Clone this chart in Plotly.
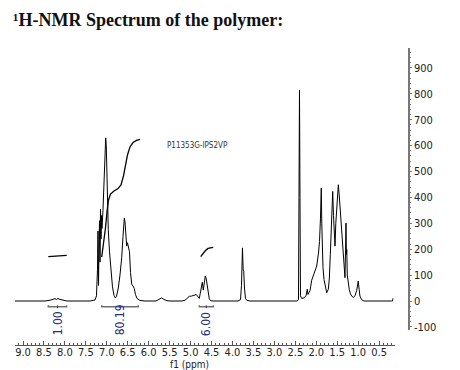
import plotly.graph_objects as go

# ---- data ----
spec_ppm = [9.19, 8.475, 8.356, 8.284, 8.236, 8.20, 8.165, 8.117, 8.045, 7.95,
            7.40, 7.28, 7.246, 7.222, 7.21, 7.198, 7.186, 7.174, 7.162, 7.150,
            7.138, 7.126, 7.115, 7.091, 7.067, 7.043, 7.026, 7.012, 6.995, 6.964,
            6.935, 6.900, 6.864, 6.828, 6.797, 6.768, 6.725, 6.685, 6.644, 6.613,
            6.582, 6.565, 6.541, 6.525, 6.506, 6.482, 6.458, 6.434, 6.405, 6.375,
            6.343, 6.315, 6.279, 6.208, 6.088, 5.825, 5.754, 5.689, 5.634, 5.563,
            5.491, 5.205, 5.133, 5.085, 5.030, 4.978, 4.935, 4.894, 4.870, 4.835,
            4.792, 4.768, 4.744, 4.720, 4.696, 4.672, 4.649, 4.625, 4.601, 4.577,
            4.553, 4.520, 4.441, 3.868, 3.808, 3.785, 3.761, 3.744, 3.730, 3.713,
            3.689, 3.653, 3.582, 2.46, 2.424, 2.412, 2.400, 2.388, 2.376, 2.347,
            2.293, 2.245, 2.214, 2.197, 2.149, 2.109, 2.054, 1.989, 1.946, 1.922,
            1.899, 1.880, 1.868, 1.856, 1.839, 1.815, 1.779, 1.750, 1.712, 1.688,
            1.664, 1.640, 1.624, 1.607, 1.588, 1.569, 1.552, 1.533, 1.511, 1.492,
            1.473, 1.452, 1.433, 1.409, 1.392, 1.373, 1.354, 1.333, 1.314, 1.300,
            1.290, 1.281, 1.271, 1.259, 1.235, 1.212, 1.183, 1.155, 1.112, 1.076,
            1.035, 1.016, 0.997, 0.976, 0.957, 0.916, 0.861, 0.20, 0.18, 0.17]
spec_int = [0, 0, 3, 7, 9, 6, 10, 6, 3, 0,
            0, 4, 20, 120, 270, 60, 200, 310, 150, 355,
            240, 330, 280, 350, 480, 590, 630, 600, 470, 275,
            190, 115, 55, 22, 12, 18, 50, 100, 167, 250,
            320, 305, 240, 212, 225, 210, 190, 110, 65, 58,
            48, 25, 10, 2, 0, 0, 5, 12, 6, 1,
            0, 0, 3, 10, 18, 19, 20, 23, 26, 20,
            10, 30, 55, 72, 42, 75, 97, 85, 62, 30,
            8, 1, 0, 0, 5, 60, 205, 120, 113, 50,
            10, 2, 0, 0, 5, 400, 814, 400, 20, 10,
            12, 20, 45, 25, 40, 80, 103, 135, 185, 230,
            320, 436, 300, 200, 130, 83, 45, 32, 45, 85,
            180, 301, 380, 423, 330, 260, 212, 300, 365, 420,
            449, 410, 365, 290, 250, 190, 147, 110, 90, 200,
            301, 180, 199, 100, 55, 45, 28, 19, 14, 20,
            40, 65, 77, 45, 19, 5, 0, 0, 0, 10]

integral1_ppm = [8.396, 8.188, 7.957]
integral1_val = [171, 173, 176]
integral2_ppm = [7.121, 7.078, 7.031, 6.995, 6.959, 6.911, 6.828, 6.732, 6.661,
                 6.601, 6.553, 6.506, 6.446, 6.374, 6.291, 6.207]
integral2_val = [170, 216, 282, 344, 390, 413, 425, 434, 448,
                 483, 525, 564, 595, 612, 620, 624]
integral3_ppm = [4.758, 4.703, 4.644, 4.584, 4.512, 4.458]
integral3_val = [171, 183, 195, 203, 207, 207]

integral_starts = [8.396, 7.121, 4.792]
integral_ends = [7.957, 6.248, 4.458]
integral_labels = ["1.00", "80.19", "6.00"]

x_tick_vals = [9.0, 8.5, 8.0, 7.5, 7.0, 6.5, 6.0, 5.5, 5.0, 4.5, 4.0, 3.5, 3.0, 2.5, 2.0, 1.5, 1.0, 0.5]
x_tick_text = ["9.0", "8.5", "8.0", "7.5", "7.0", "6.5", "6.0", "5.5", "5.0", "4.5",
               "4.0", "3.5", "3.0", "2.5", "2.0", "1.5", "1.0", "0.5"]
y_tick_vals = [-100, 0, 100, 200, 300, 400, 500, 600, 700, 800, 900]
y_tick_text = ["-100", "0", "100", "200", "300", "400", "500", "600", "700", "800", "900"]

sample_name = "P11353G-IPS2VP"
title_text = "¹H-NMR Spectrum of the polymer:"

# ---- styling ----
NARROW = "Liberation Sans Narrow, DejaVu Sans Condensed, Arial Narrow, sans-serif"
NAVY = "#27307a"
BRACKET_Y = -22

fig = go.Figure()
fig.add_trace(go.Scatter(x=spec_ppm, y=spec_int, mode="lines",
                         line=dict(color="black", width=1), hoverinfo="skip"))
for xs, ys in [(integral1_ppm, integral1_val), (integral2_ppm, integral2_val),
               (integral3_ppm, integral3_val)]:
    fig.add_trace(go.Scatter(x=xs, y=ys, mode="lines", line=dict(color="black", width=1.3),
                             hoverinfo="skip"))

for s, e, lab in zip(integral_starts, integral_ends, integral_labels):
    fig.add_trace(go.Scatter(x=[s, s, e, e], y=[BRACKET_Y + 6, BRACKET_Y, BRACKET_Y, BRACKET_Y + 6],
                             mode="lines", line=dict(color="#707070", width=1.5),
                             hoverinfo="skip", cliponaxis=False))
    c = (s + e) / 2
    fig.add_trace(go.Scatter(x=[c, c], y=[BRACKET_Y + 5, BRACKET_Y - 6], mode="lines",
                             line=dict(color=NAVY, width=1), hoverinfo="skip", cliponaxis=False))
    fig.add_annotation(x=c, y=0.024, xref="x", yref="paper", text=lab, textangle=-90,
                       showarrow=False, yanchor="bottom", xanchor="center",
                       font=dict(family=NARROW, size=12, color=NAVY))

fig.add_annotation(x=4.823, y=602, xref="x", yref="y", text=sample_name, showarrow=False,
                   font=dict(family=NARROW, size=8, color="#333333"))
fig.add_annotation(x=5.014, y=-0.066, xref="x", yref="paper", text="f1 (ppm)", showarrow=False,
                   yanchor="middle", font=dict(family=NARROW, size=10, color="#222222"))

fig.update_layout(
    width=460, height=370,
    margin=dict(l=15, r=51, t=48, b=25),
    paper_bgcolor="white", plot_bgcolor="white",
    showlegend=False,
    title=dict(text=title_text, x=13 / 460, xanchor="left", y=1 - 20 / 370, yanchor="middle",
               font=dict(family="Liberation Serif, serif", size=18, color="#111111",
                         weight="bold")),
    xaxis=dict(domain=[0, 380 / 394], range=[9.191, 0.12], anchor="free", position=0,
               showgrid=False, zeroline=False, showline=True, linecolor="#555555", linewidth=1,
               tickvals=x_tick_vals, ticktext=x_tick_text, ticks="inside", ticklen=4,
               tickcolor="#555555", ticklabelstandoff=-3,
               minor=dict(dtick=0.1, ticks="inside", ticklen=2, tickcolor="#555555"),
               tickfont=dict(family=NARROW, size=11, color="#222222")),
    yaxis=dict(domain=[15 / 297, 1], range=[-112, 977], side="right", anchor="free",
               position=1, showgrid=False, zeroline=False, showline=True,
               linecolor="#777777", linewidth=1.5,
               tickvals=y_tick_vals, ticktext=y_tick_text, ticks="outside", ticklen=2,
               tickcolor="#777777",
               minor=dict(dtick=20, ticks="outside", ticklen=1, tickcolor="#777777"),
               tickfont=dict(family=NARROW, size=11, color="#222222")),
)

fig.write_html("out.html", config={"displayModeBar": False},
               post_script="document.body.style.margin='0';document.body.style.overflow='hidden';")
